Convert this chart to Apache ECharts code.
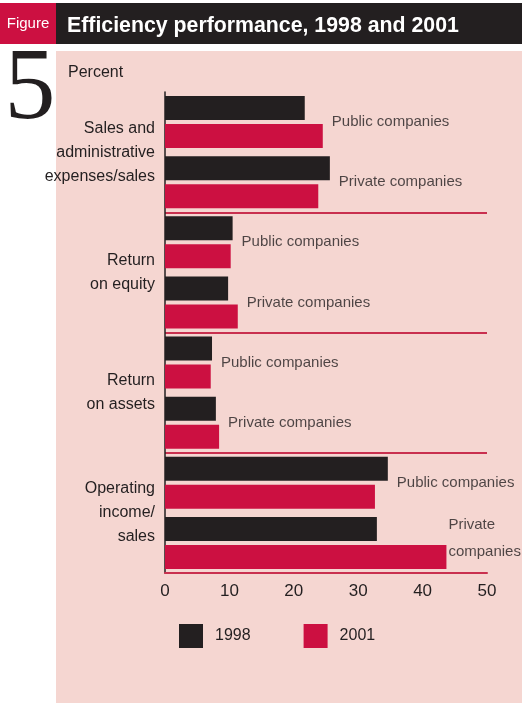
<!DOCTYPE html>
<html>
<head>
<meta charset="utf-8">
<script src="https://cdn.jsdelivr.net/npm/echarts@6/dist/echarts.min.js"></script>
<style>
  html, body { margin: 0; padding: 0; background: #fff; }
  #chart { width: 522px; height: 703px; }
</style>
</head>
<body>
<div id="chart"></div>
<script>
// groups on the left, two rows (public / private) in each
const groupNames = ["Sales and\nadministrative\nexpenses/sales", "Return\non equity", "Return\non assets", "Operating\nincome/\nsales"];
const rowNames = ["sa-pub", "sa-pri", "roe-pub", "roe-pri", "roa-pub", "roa-pri", "oi-pub", "oi-pri"];
const rowLabels = ["Public companies", "Private companies", "Public companies", "Private companies",
  "Public companies", "Private companies", "Public companies", "Private\ncompanies"];
const years = ["1998", "2001"];
const data1998 = [21.7, 25.6, 10.5, 9.8, 7.3, 7.9, 34.6, 32.9];
const data2001 = [24.5, 23.8, 10.2, 11.3, 7.1, 8.4, 32.6, 43.7];

const sans = '"Liberation Sans", Arial, sans-serif';
const dark = "#231f20";
const red = "#cc1041";
const sep = "#c9304f";

const chart = echarts.init(document.getElementById("chart"));

const labelPoints = rowLabels.map((t, i) => {
  const item = { value: [Math.max(data1998[i], data2001[i]), rowNames[i]], name: t };
  // the wrapped label sits a bit higher, tight against its bar
  if (t.indexOf("\n") >= 0) item.label = { distance: 2, lineHeight: 27, offset: [0, -5] };
  return item;
});

const option = {
  animation: false,
  title: [
    {
      text: "Efficiency performance, 1998 and 2001",
      left: 62, top: 11,
      textStyle: { color: "#fff", fontSize: 21.3, fontWeight: "bold", fontFamily: sans },
    },
    {
      text: "Percent",
      left: 63, top: 60,
      textStyle: { color: dark, fontSize: 16, fontWeight: "normal", fontFamily: sans },
    },
  ],
  graphic: [
    { type: "rect", z: -10, shape: { x: 56, y: 51, width: 466, height: 652 }, style: { fill: "#f5d6d1" } },
    { type: "rect", z: -10, shape: { x: 56, y: 3, width: 466, height: 41 }, style: { fill: dark } },
    { type: "rect", z: -10, shape: { x: 0, y: 3, width: 56, height: 41 }, style: { fill: red } },
    {
      type: "text", x: 28, y: 24,
      style: { text: "Figure", fill: "#fff", font: "15px " + sans, align: "center", verticalAlign: "middle" },
    },
    {
      type: "text", x: 30, y: 91,
      style: { text: "5", fill: dark, font: '102px "Liberation Serif", serif', align: "center", verticalAlign: "middle" },
    },
  ],
  legend: {
    data: years,
    left: 174, top: 619,
    icon: "rect",
    itemWidth: 24, itemHeight: 24,
    itemGap: 53,
    textStyle: { color: dark, fontSize: 16, fontFamily: sans, padding: [0, 0, 0, 7] },
  },
  grid: { left: 165, right: 35, top: 92, height: 481, containLabel: false },
  xAxis: {
    type: "value",
    min: 0, max: 50, interval: 10,
    axisLine: { show: true, lineStyle: { color: sep, width: 2 } },
    axisTick: { show: false },
    splitLine: { show: false },
    axisLabel: { color: dark, fontSize: 17, fontFamily: sans, margin: 10 },
  },
  yAxis: [
    {
      type: "category",
      data: rowNames,
      inverse: true,
      position: "left",
      axisLine: { show: true, lineStyle: { color: dark, width: 1.5 } },
      axisTick: { show: false },
      axisLabel: { show: false },
    },
    {
      type: "category",
      data: groupNames,
      inverse: true,
      position: "left",
      offset: 0,
      axisLine: { show: false },
      axisTick: { show: false },
      axisLabel: { color: dark, fontSize: 16, fontFamily: sans, lineHeight: 24, margin: 10, align: "right" },
      splitLine: { show: true, lineStyle: { color: ["rgba(0,0,0,0)", sep, sep, sep, sep], width: 2 } },
    },
  ],
  series: [
    {
      name: "1998", type: "bar", yAxisIndex: 0,
      data: data1998, barWidth: 24, barGap: "17%",
      itemStyle: { color: dark }, silent: true,
    },
    {
      name: "2001", type: "bar", yAxisIndex: 0,
      data: data2001, barWidth: 24, barGap: "17%",
      itemStyle: { color: red }, silent: true,
    },
    {
      type: "scatter", yAxisIndex: 0, symbolSize: 0, silent: true,
      data: labelPoints,
      label: {
        show: true, position: "right", distance: 9,
        formatter: (p) => p.name,
        color: dark, fontSize: 15, fontFamily: sans, lineHeight: 24, align: "left",
      },
    },
  ],
};

chart.setOption(option);
</script>
</body>
</html>
